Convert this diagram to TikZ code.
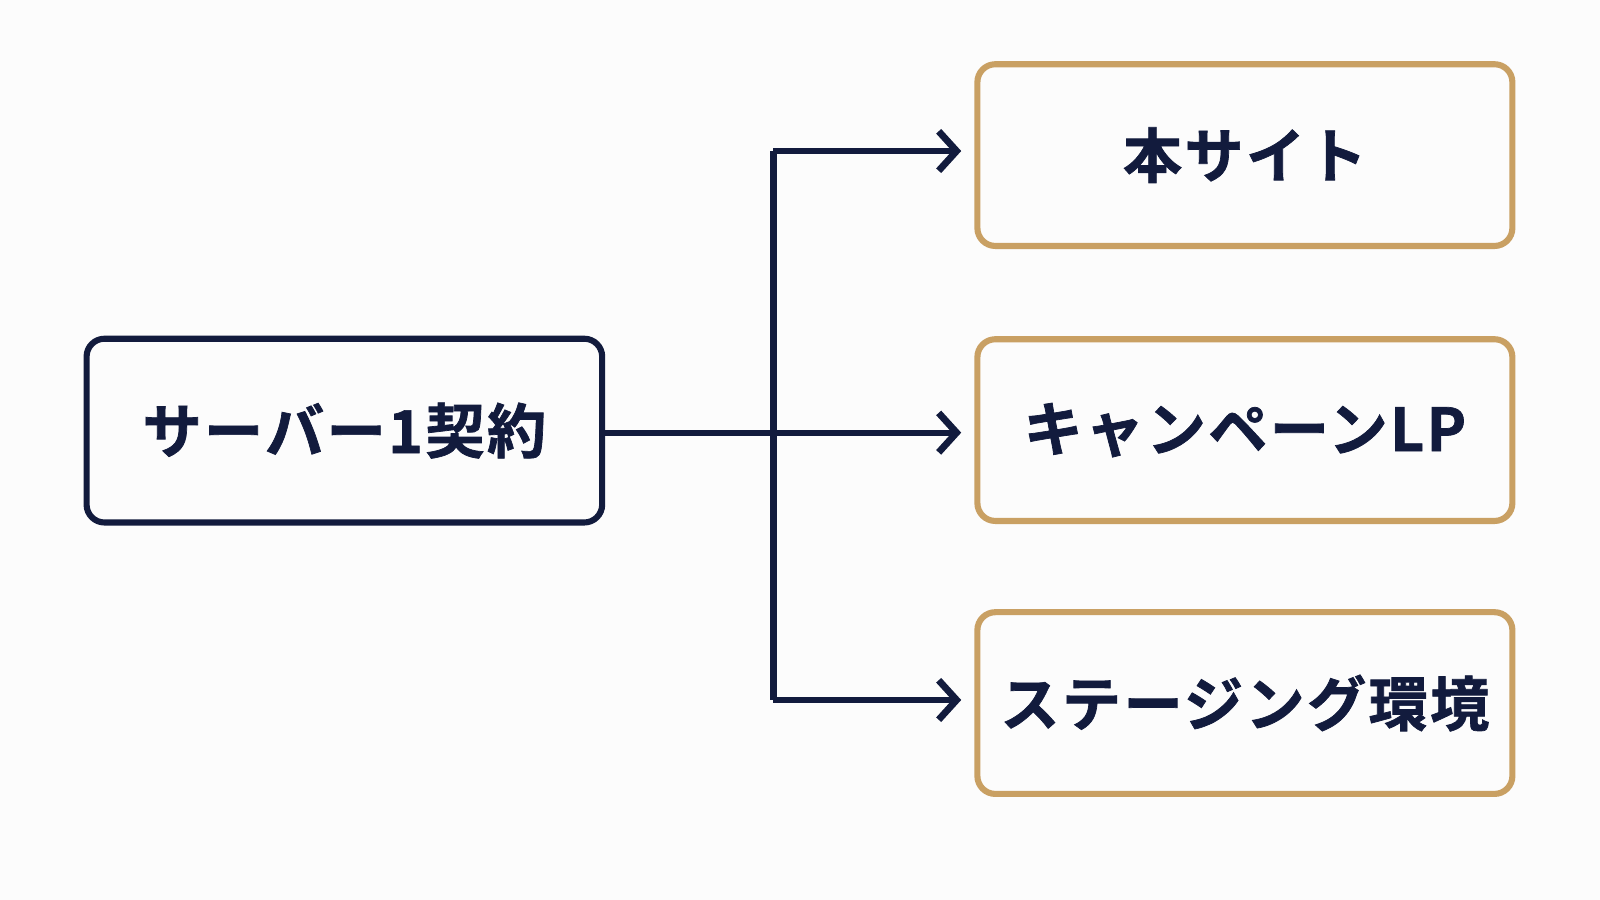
\documentclass[tikz,border=0pt]{standalone}
\usepackage{fontspec}
\newfontfamily\jp[FakeBold=1.2,LetterSpace=4]{Noto Sans CJK JP Bold}
\usetikzlibrary{arrows.meta}
\definecolor{navy}{HTML}{121B3D}
\definecolor{gold}{HTML}{C9A063}
\begin{document}
\begin{tikzpicture}[x=0.01cm,y=-0.01cm,
  box/.style={draw, line width=1.7pt, rounded corners=5pt, text=navy, font=\jp\fontsize{16.5}{20}\selectfont},
  src/.style={box, draw=navy, minimum width=5.05cm, minimum height=1.8cm},
  dst/.style={box, draw=gold, minimum width=5.24cm, minimum height=1.78cm},
  conn/.style={draw=navy, line width=1.7pt},
  arr/.style={conn, -{Straight Barb[length=5pt,width=11pt,line width=1.9pt]}}]
\fill[white!98!gray] (0,0) rectangle (1568,882);
\useasboundingbox (0,0) rectangle (1568,882);
\node[src] (a) at (337.5,422) {サーバー1契約};
\node[dst] (b1) at (1220,152) {本サイト};
\node[dst] (b2) at (1220,421.5) {キャンペーンLP};
\node[dst] (b3) at (1220,689) {ステージング環境};
\coordinate (j) at (758,424);
\coordinate (t1) at (758,148);
\coordinate (t3) at (758,686);
\coordinate (e1) at (942,148);
\coordinate (e2) at (942,424);
\coordinate (e3) at (942,686);
\draw[conn] (a.east |- j) -- (j);
\draw[conn] (t1) -- (t3);
\draw[arr] (t1) -- (e1);
\draw[arr] (j) -- (e2);
\draw[arr] (t3) -- (e3);
\end{tikzpicture}
\end{document}
